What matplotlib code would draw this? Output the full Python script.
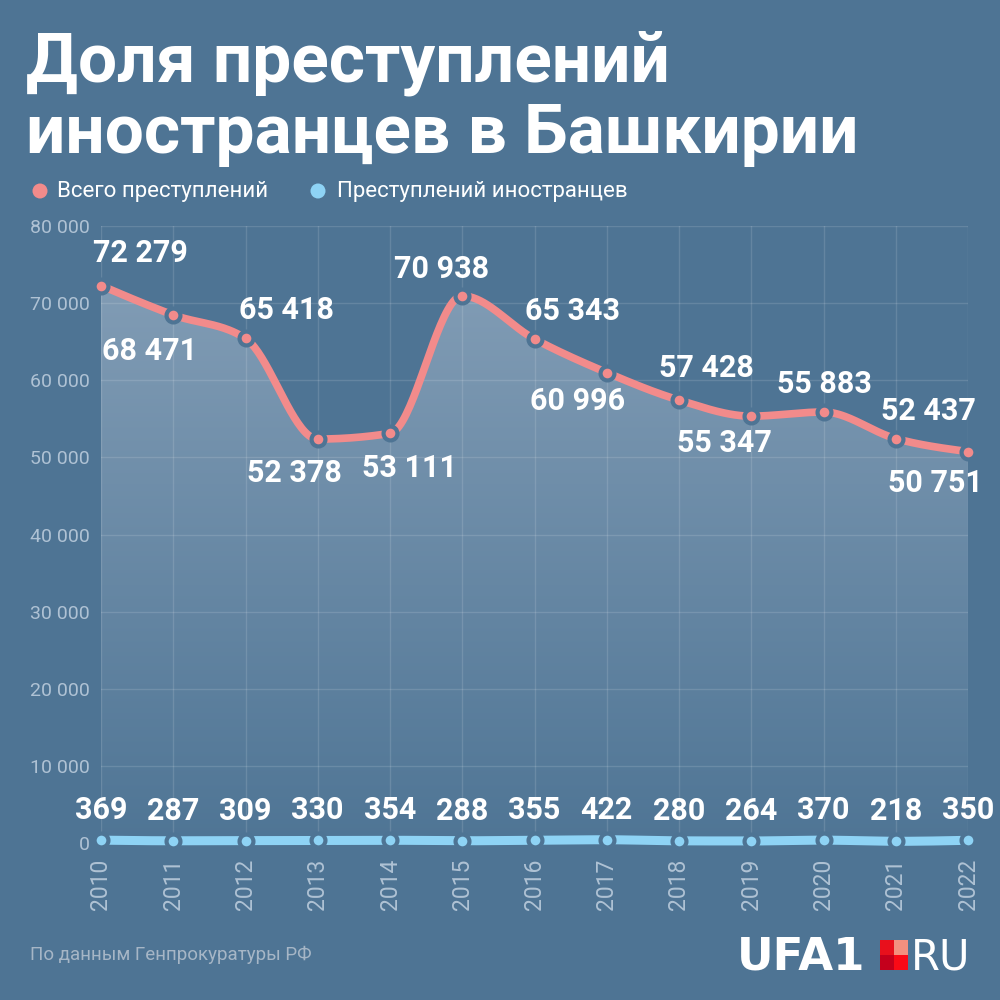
import numpy as np
import matplotlib
matplotlib.use("Agg")
import matplotlib.pyplot as plt
from matplotlib.patches import Rectangle, Circle, PathPatch
from matplotlib.path import Path
from matplotlib.colors import LinearSegmentedColormap

plt.rcParams['font.family'] = ['Roboto', 'DejaVu Sans']

years = [2010, 2011, 2012, 2013, 2014, 2015, 2016, 2017, 2018, 2019, 2020, 2021, 2022]
total = [72279, 68471, 65418, 52378, 53111, 70938, 65343, 60996, 57428, 55347, 55883, 52437, 50751]
foreign = [369, 287, 309, 330, 354, 288, 355, 422, 280, 264, 370, 218, 350]
yticks = [0, 10000, 20000, 30000, 40000, 50000, 60000, 70000, 80000]

# label offsets in pixels (dx, dy) for the total series
lab_off = [(39, 33), (-24, -36), (41, 28), (-23, -34), (19, -35), (-21, 27), (38, 28),
           (-29, -28), (27, 32), (-27, -27), (1, 28), (33, 28), (-33, -31)]

BG = '#4E7494'
PINK = '#F28B8B'
BLUE = '#8ED3F5'
TICK = '#AFC2D4'


def monotone(x, y, n=40):
    x = np.asarray(x, float); y = np.asarray(y, float)
    h = np.diff(x); s = np.diff(y) / h
    m = np.zeros_like(y)
    for i in range(1, len(x) - 1):
        p = (s[i - 1] * h[i] + s[i] * h[i - 1]) / (h[i - 1] + h[i])
        m[i] = (np.sign(s[i - 1]) + np.sign(s[i])) * min(abs(s[i - 1]), abs(s[i]), 0.5 * abs(p))
    m[0] = (3 * s[0] - m[1]) / 2
    m[-1] = (3 * s[-1] - m[-2]) / 2
    xs, ys = [], []
    for i in range(len(x) - 1):
        t = np.linspace(0, 1, n, endpoint=(i == len(x) - 2))
        h00 = 2 * t**3 - 3 * t**2 + 1
        h10 = t**3 - 2 * t**2 + t
        h01 = -2 * t**3 + 3 * t**2
        h11 = t**3 - t**2
        xs.append(x[i] + t * h[i])
        ys.append(h00 * y[i] + h10 * h[i] * m[i] + h01 * y[i + 1] + h11 * h[i] * m[i + 1])
    return np.concatenate(xs), np.concatenate(ys)


fig = plt.figure(figsize=(10, 10), dpi=100, facecolor=BG)
ax = fig.add_axes([0.101, 0.157, 0.867, 0.617])
ax.set_facecolor(BG)
ax.set_xlim(years[0], years[-1])
ax.set_ylim(0, 80000)
for sp in ax.spines.values():
    sp.set_visible(False)

ax.set_yticks(yticks)
ax.set_yticklabels([f"{v:,}".replace(",", " ") for v in yticks])
ax.set_xticks(years)
ax.set_xticklabels([str(y) for y in years], rotation=90, va='top', fontsize=16.5)
ax.tick_params(axis='both', length=0, colors=TICK)
ax.tick_params(axis='y', pad=8, labelsize=14)
ax.tick_params(axis='x', pad=11)
ax.grid(True, color='#FFFFFF', alpha=0.13, linewidth=1, zorder=2)
ax.set_axisbelow(False)

# total series: smooth line with gradient fill
sx, sy = monotone(years, total)
verts = [(sx[0], 0)] + list(zip(sx, sy)) + [(sx[-1], 0), (sx[0], 0)]
poly = PathPatch(Path(verts), facecolor='none', edgecolor='none')
ax.add_patch(poly)
grad = np.linspace(0, 1, 256).reshape(-1, 1)
cmap = LinearSegmentedColormap.from_list('g', ['#4F7595', '#86A0B8'])
im = ax.imshow(grad, extent=[years[0], years[-1], 0, 80000], origin='lower',
               aspect='auto', cmap=cmap, zorder=1.5, vmin=0, vmax=1)
im.set_clip_path(poly)

ax.plot(sx, sy, color=PINK, lw=5.5, zorder=3, solid_capstyle='round')
ax.plot(years, total, 'o', ms=10, color=PINK, mec=BG, mew=3, zorder=4, clip_on=False)

fx, fy = monotone(years, foreign)
ax.plot(fx, fy, color=BLUE, lw=6.5, zorder=3, clip_on=False)
ax.plot(years, foreign, 'o', ms=10, color=BLUE, mec=BG, mew=3, zorder=4, clip_on=False)

for x, v, (dx, dy) in zip(years, total, lab_off):
    ax.annotate(f"{v:,}".replace(",", " "), (x, v), xytext=(dx * 0.72, dy * 0.72),
                textcoords='offset points', ha='center', va='center', color='white',
                fontsize=22, fontweight='bold', zorder=5, annotation_clip=False)
for x, v in zip(years, foreign):
    ax.annotate(str(v), (x, v), xytext=(0, 30 * 0.72), textcoords='offset points',
                ha='center', va='center', color='white', fontsize=22, fontweight='bold',
                zorder=5, annotation_clip=False)

# title
fig.text(0.026, 1 - 0.082, "Доля преступлений", color='white', fontsize=50,
         fontweight='bold', ha='left', va='baseline')
fig.text(0.026, 1 - 0.153, "иностранцев в Башкирии", color='white', fontsize=50,
         fontweight='bold', ha='left', va='baseline')

# legend
fig.patches.append(Circle((0.040, 1 - 0.191), 0.0075, transform=fig.transFigure,
                          facecolor=PINK, edgecolor='none'))
fig.text(0.057, 1 - 0.191, "Всего преступлений", color='white', fontsize=16,
         ha='left', va='center')
fig.patches.append(Circle((0.318, 1 - 0.191), 0.0075, transform=fig.transFigure,
                          facecolor=BLUE, edgecolor='none'))
fig.text(0.337, 1 - 0.191, "Преступлений иностранцев", color='white', fontsize=16,
         ha='left', va='center')

# footer
fig.text(0.030, 1 - 0.955, "По данным Генпрокуратуры РФ", color='#A6B6C6', fontsize=13.5,
         ha='left', va='center')
fig.text(0.737, 1 - 0.970, "UFA1", color='white', fontsize=32.5, fontweight='bold',
         family=['DejaVu Sans'], ha='left', va='baseline')
sq = 0.014
x0, y0 = 0.880, 1 - 0.970
for (ix, iy, c) in [(0, 1, '#E8101C'), (1, 1, '#F3907F'), (0, 0, '#C4001C'), (1, 0, '#FA0A16')]:
    fig.patches.append(Rectangle((x0 + ix * sq, y0 + iy * 0.015), sq, 0.015,
                                 transform=fig.transFigure, facecolor=c, edgecolor='none'))
fig.text(0.911, 1 - 0.970, "RU", color='white', fontsize=30, fontweight='normal',
         family=['DejaVu Sans'], ha='left', va='baseline')

fig.savefig('out.png', dpi=100, facecolor=BG)
